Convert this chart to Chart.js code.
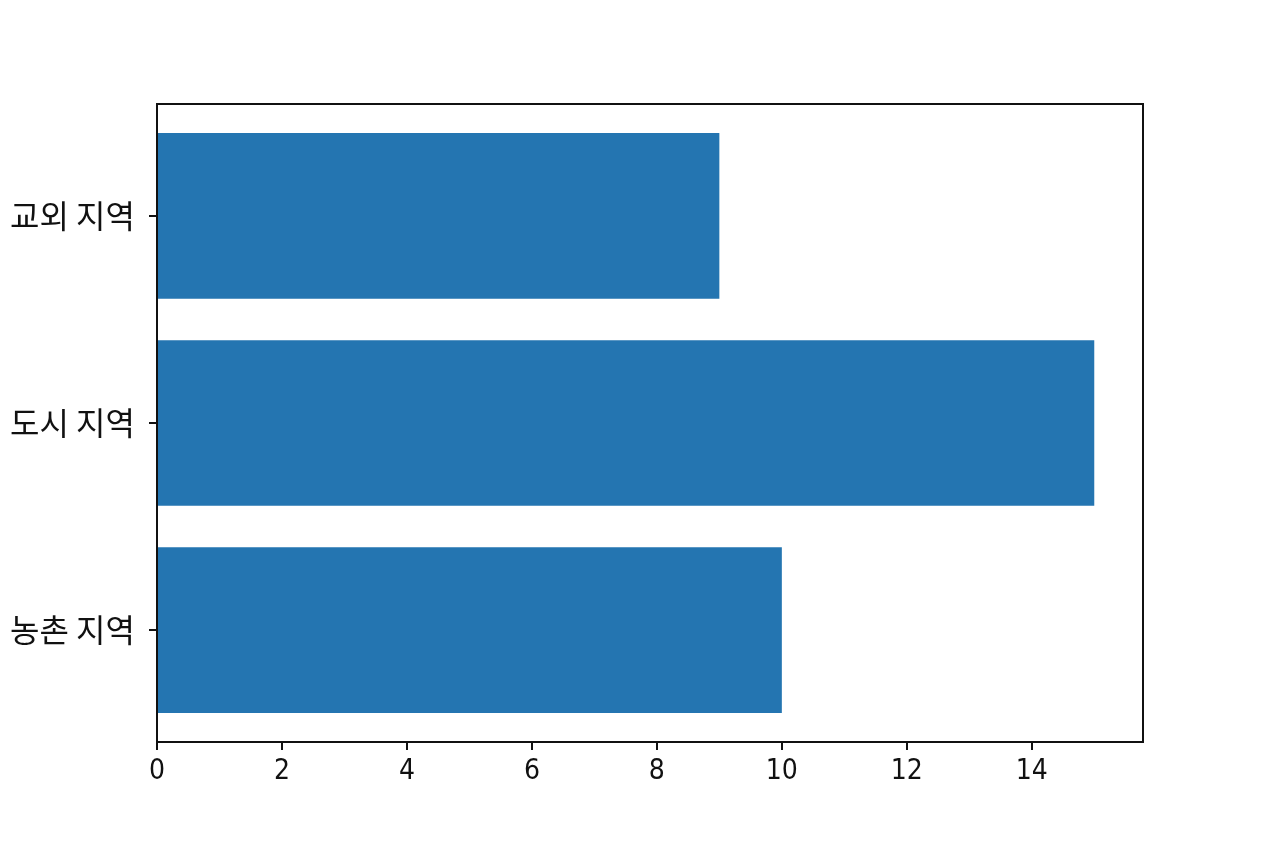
<!DOCTYPE html>
<html>
<head>
<meta charset="utf-8">
<script src="https://cdn.jsdelivr.net/npm/chart.js@4/dist/chart.umd.min.js"></script>
<style>
html,body{margin:0;padding:0;background:#fff;overflow:hidden;}
canvas{display:block;}
</style>
</head>
<body>
<canvas id="c" width="1264" height="848"></canvas>
<script>
// Categories in bottom-to-top order (matplotlib barh order)
const categories = ['농촌 지역', '도시 지역', '교외 지역'];
const values = [10, 15, 9];
const xTicks = [0, 2, 4, 6, 8, 10, 12, 14];

const XFONT = "'DejaVu Sans Condensed', 'DejaVu Sans', sans-serif";
const YFONT = "'Noto Sans CJK KR', 'DejaVu Sans', sans-serif";

const frame = {
  id: 'frame',
  afterDatasetsDraw(chart) {
    const a = chart.chartArea, ctx = chart.ctx;
    ctx.save();
    ctx.strokeStyle = '#111';
    ctx.lineWidth = 2;
    ctx.strokeRect(a.left, a.top, a.right - a.left, a.bottom - a.top);
    ctx.restore();
  }
};

new Chart(document.getElementById('c'), {
  type: 'bar',
  data: {
    datasets: [{
      data: values.map((v, i) => ({ x: v, y: i })),
      backgroundColor: '#2475b1',
      borderWidth: 0,
      barPercentage: 0.8,
      categoryPercentage: 1.0
    }]
  },
  plugins: [frame],
  options: {
    indexAxis: 'y',
    responsive: false,
    animation: false,
    devicePixelRatio: 1,
    layout: { padding: { left: 0, right: 121, top: 104, bottom: 0 } },
    plugins: { legend: { display: false }, tooltip: { enabled: false } },
    scales: {
      x: {
        type: 'linear',
        min: 0,
        max: 15.78,
        afterBuildTicks(scale) { scale.ticks = xTicks.map(v => ({ value: v })); },
        afterFit(scale) { scale.height = 106; },
        grid: { drawOnChartArea: false, drawTicks: true, tickLength: 8, color: '#111', lineWidth: 2 },
        border: { display: true, color: '#111', width: 2 },
        ticks: { color: '#111', font: { family: XFONT, size: 28 }, padding: 5, maxRotation: 0 }
      },
      y: {
        type: 'linear',
        offset: false,
        min: -0.54,
        max: 2.54,
        afterBuildTicks(scale) { scale.ticks = categories.map((c, i) => ({ value: i })); },
        afterFit(scale) { scale.width = 157; },
        grid: { offset: false, drawOnChartArea: false, drawTicks: true, tickLength: 8, color: '#111', lineWidth: 2 },
        border: { display: true, color: '#111', width: 2 },
        ticks: {
          color: '#111',
          font: { family: YFONT, size: 32 },
          padding: 14,
          callback: (v) => categories[v] !== undefined ? categories[v] : ''
        }
      }
    }
  }
});
</script>
</body>
</html>
